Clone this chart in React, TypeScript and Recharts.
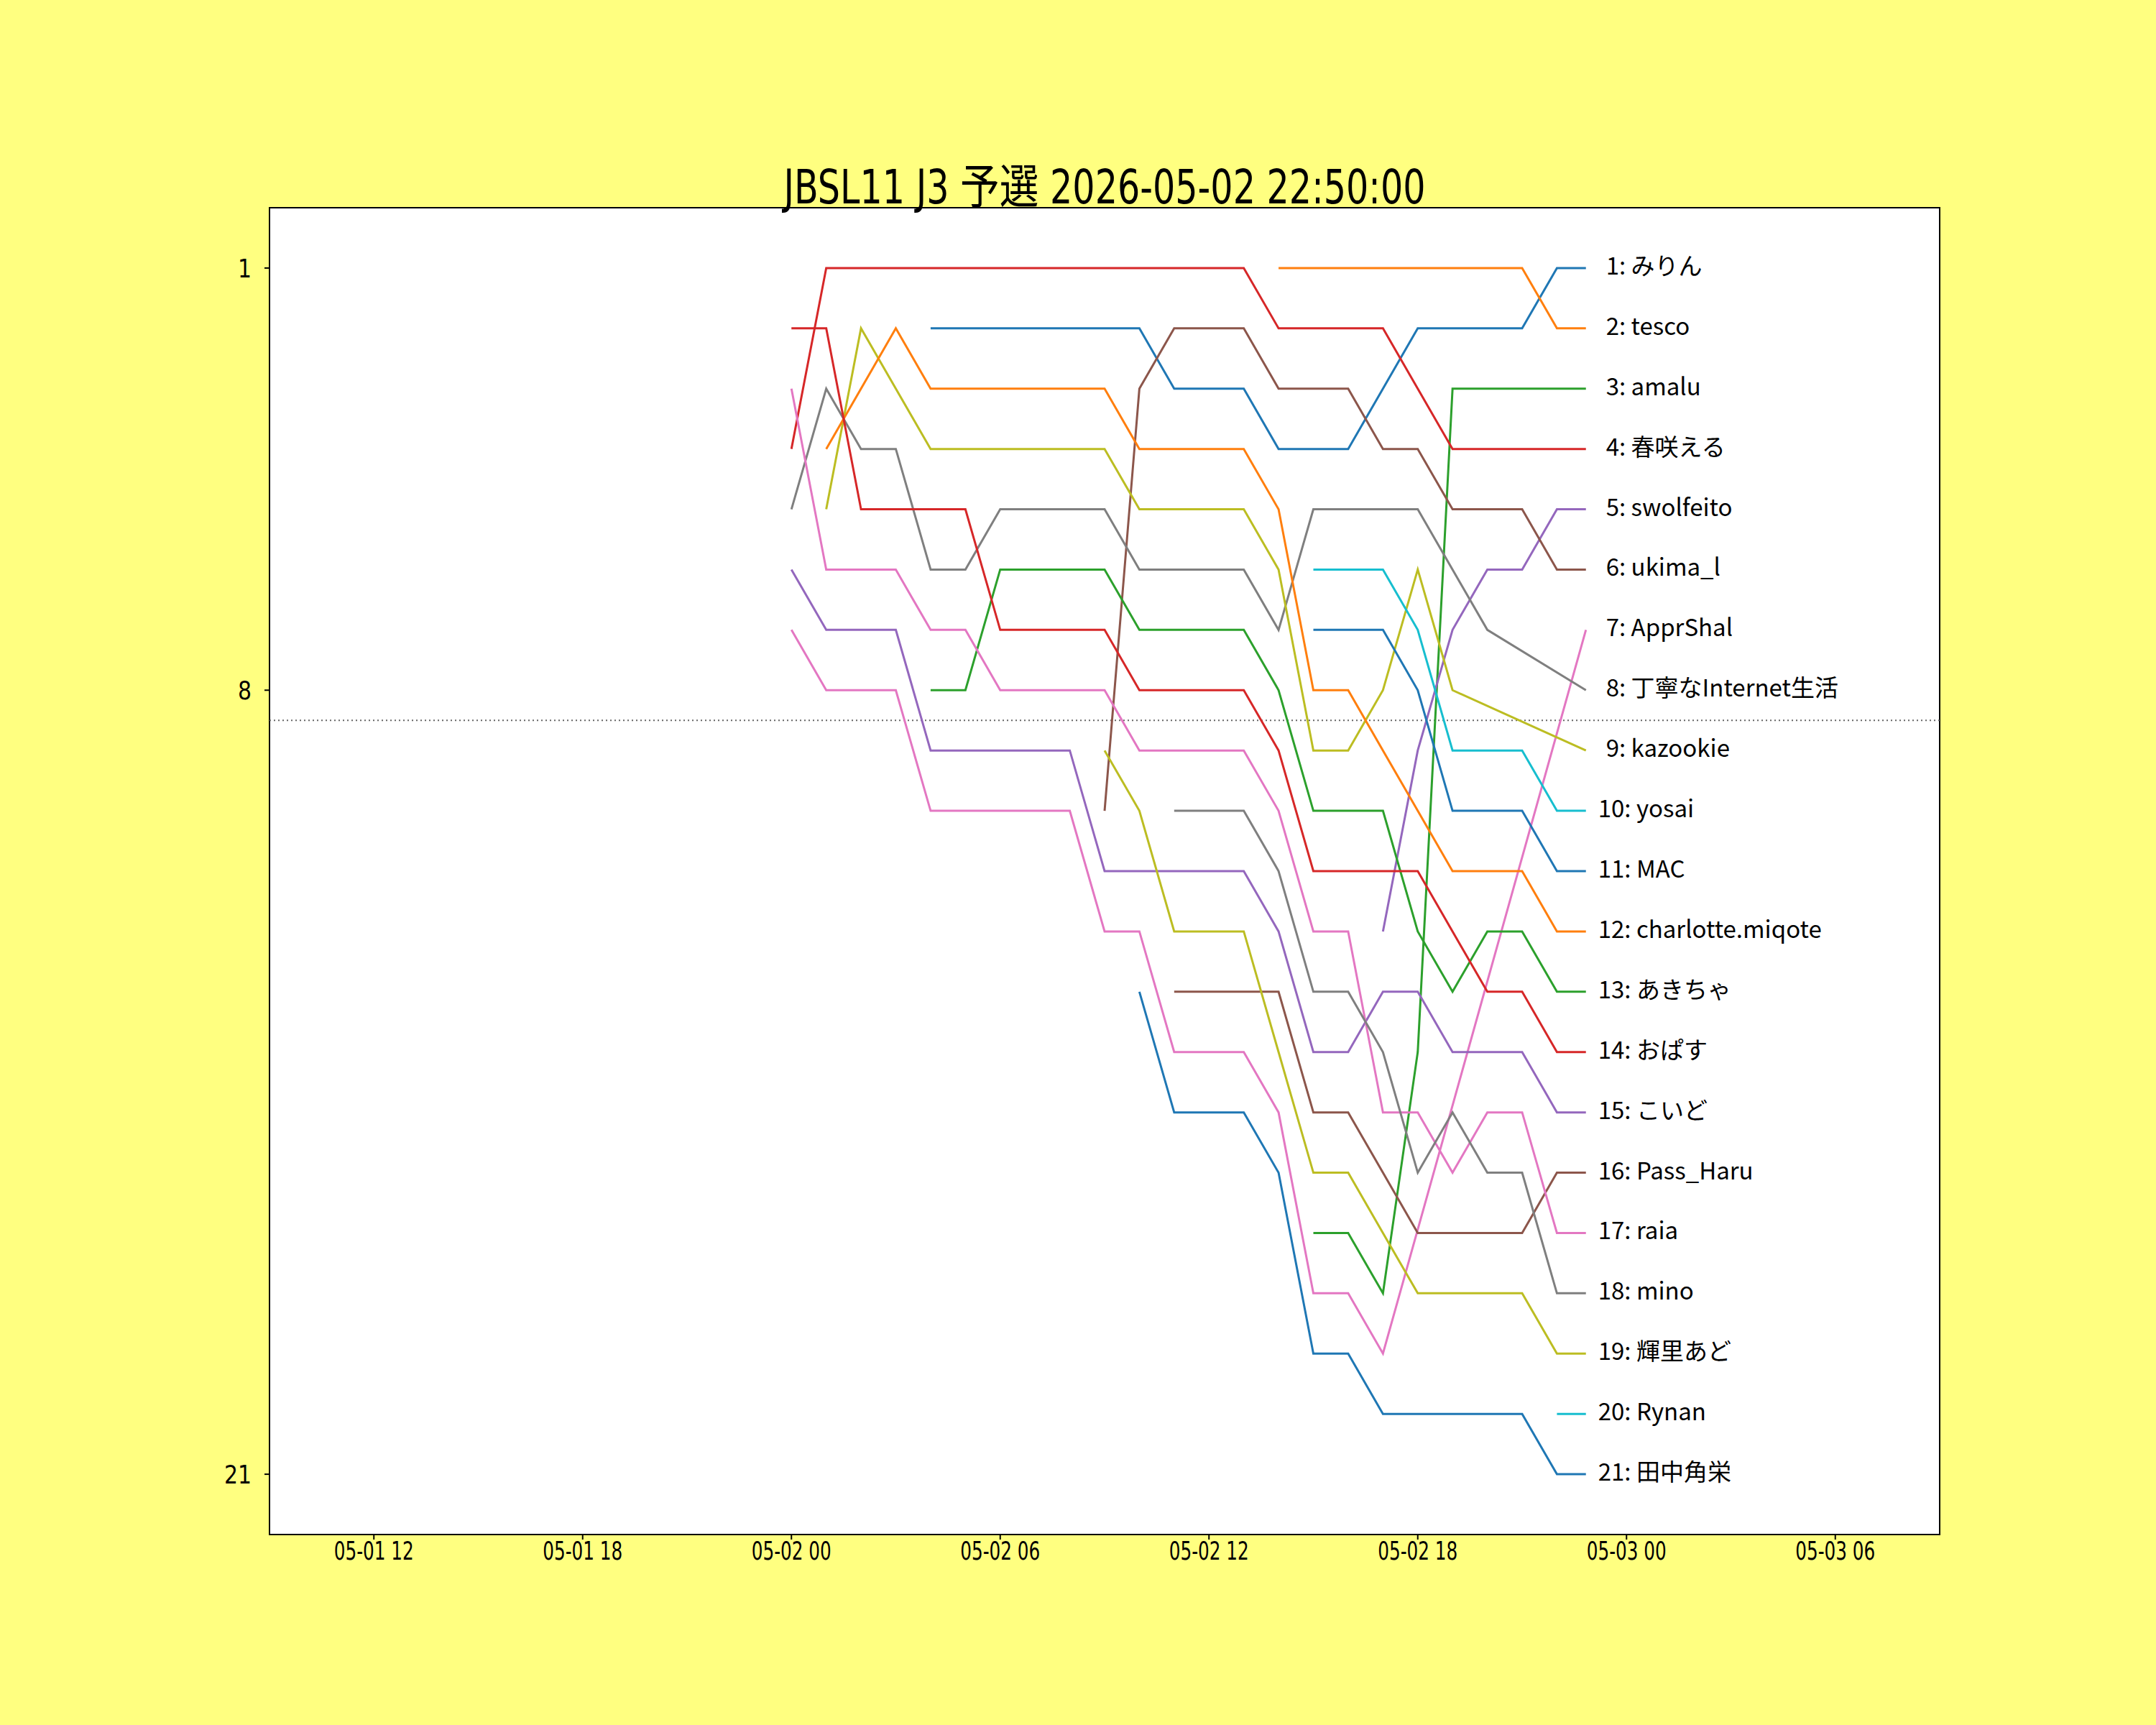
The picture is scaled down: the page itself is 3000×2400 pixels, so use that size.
import { LineChart, Line, XAxis, YAxis, ReferenceArea, ReferenceLine, LabelList } from 'recharts'

// hours after 05-02 00:00; the last point is the snapshot time 22:50
const hours = [0, 1, 2, 3, 4, 5, 6, 7, 8, 9, 10, 11, 12, 13, 14, 15, 16, 17, 18, 19, 20, 21, 22, 22.833]

const names = [
  'みりん', 'tesco', 'amalu', '春咲える', 'swolfeito', 'ukima_l', 'ApprShal',
  '丁寧なInternet生活', 'kazookie', 'yosai', 'MAC', 'charlotte.miqote', 'あきちゃ', 'おぱす',
  'こいど', 'Pass_Haru', 'raia', 'mino', '輝里あど', 'Rynan', '田中角栄',
]

const n = null
const miririn = [n, n, n, n, 2, 2, 2, 2, 2, 2, 2, 3, 3, 3, 4, 4, 4, 3, 2, 2, 2, 2, 1, 1]
const tesco = [n, n, n, n, n, n, n, n, n, n, n, n, n, n, 1, 1, 1, 1, 1, 1, 1, 1, 2, 2]
const amalu = [n, n, n, n, n, n, n, n, n, n, n, n, n, n, n, 17, 17, 18, 14, 3, 3, 3, 3, 3]
const harusaki = [4, 1, 1, 1, 1, 1, 1, 1, 1, 1, 1, 1, 1, 1, 2, 2, 2, 2, 3, 4, 4, 4, 4, 4]
const swolfeito = [n, n, n, n, n, n, n, n, n, n, n, n, n, n, n, n, n, 12, 9, 7, 6, 6, 5, 5]
const ukima = [n, n, n, n, n, n, n, n, n, 10, 3, 2, 2, 2, 3, 3, 3, 4, 4, 5, 5, 5, 6, 6]
const apprShal = [7, 8, 8, 8, 10, 10, 10, 10, 10, 12, 12, 14, 14, 14, 15, 18, 18, 19, n, n, n, n, n, 7]
const teinei = [5, 3, 4, 4, 6, 6, 5, 5, 5, 5, 6, 6, 6, 6, 7, 5, 5, 5, 5, 6, 7, n, n, 8]
const kazookie = [n, 5, 2, 3, 4, 4, 4, 4, 4, 4, 5, 5, 5, 5, 6, 9, 9, 8, 6, 8, n, n, n, 9]
const yosai = [n, n, n, n, n, n, n, n, n, n, n, n, n, n, n, 6, 6, 6, 7, 9, 9, 9, 10, 10]
const mac = [n, n, n, n, n, n, n, n, n, n, n, n, n, n, n, 7, 7, 7, 8, 10, 10, 10, 11, 11]
const charlotte = [n, 4, 3, 2, 3, 3, 3, 3, 3, 3, 4, 4, 4, 4, 5, 8, 8, 9, 10, 11, 11, 11, 12, 12]
const akicha = [n, n, n, n, 8, 8, 6, 6, 6, 6, 7, 7, 7, 7, 8, 10, 10, 10, 12, 13, 12, 12, 13, 13]
const opasu = [2, 2, 5, 5, 5, 5, 7, 7, 7, 7, 8, 8, 8, 8, 9, 11, 11, 11, 11, 12, 13, 13, 14, 14]
const koido = [6, 7, 7, 7, 9, 9, 9, 9, 9, 11, 11, 11, 11, 11, 12, 14, 14, 13, 13, 14, 14, 14, 15, 15]
const passHaru = [n, n, n, n, n, n, n, n, n, n, n, 13, 13, 13, 13, 15, 15, 16, 17, 17, 17, 17, 16, 16]
const raia = [3, 6, 6, 6, 7, 7, 8, 8, 8, 8, 9, 9, 9, 9, 10, 12, 12, 15, 15, 16, 15, 15, 17, 17]
const mino = [n, n, n, n, n, n, n, n, n, n, n, 10, 10, 10, 11, 13, 13, 14, 16, 15, 16, 16, 18, 18]
const kirari = [n, n, n, n, n, n, n, n, n, 9, 10, 12, 12, 12, 14, 16, 16, 17, 18, 18, 18, 18, 19, 19]
const rynan = [n, n, n, n, n, n, n, n, n, n, n, n, n, n, n, n, n, n, n, n, n, n, 20, 20]
const tanaka = [n, n, n, n, n, n, n, n, n, n, 13, 15, 15, 15, 16, 19, 19, 20, 20, 20, 20, 20, 21, 21]

const ranks = [
  miririn, tesco, amalu, harusaki, swolfeito, ukima, apprShal, teinei, kazookie, yosai, mac,
  charlotte, akicha, opasu, koido, passHaru, raia, mino, kirari, rynan, tanaka,
]

const xTicks = [-12, -6, 0, 6, 12, 18, 24, 30]
const xTickLabels = ['05-01 12', '05-01 18', '05-02 00', '05-02 06', '05-02 12', '05-02 18', '05-03 00', '05-03 06']
const yTicks = [1, 8, 21]
const cutoff = 8.5

const palette = ['#1f77b4', '#ff7f0e', '#2ca02c', '#d62728', '#9467bd', '#8c564b', '#e377c2', '#7f7f7f', '#bcbd22', '#17becf']

const data = hours.map((t, i) => {
  const row: any = { t }
  ranks.forEach((r, j) => { row[`p${j}`] = r[i] })
  return row
})

const narrow = '"Liberation Sans Narrow", "DejaVu Sans Condensed", "Noto Sans CJK JP"'

// the original uses a condensed face, so squeeze the tick text to its width
const XTick = ({ x, y, payload }: any) => (
  <text x={x} y={y} dy="0.71em" textAnchor="middle" fontFamily={narrow} fontSize={36} fill="#000"
    textLength={111} lengthAdjust="spacingAndGlyphs">
    {xTickLabels[xTicks.indexOf(payload.value)]}
  </text>
)

const YTick = ({ x, y, payload }: any) => (
  <text x={x} y={y} dy="0.355em" textAnchor="end" fontFamily={narrow} fontSize={36} fill="#000"
    textLength={String(payload.value).length * 19} lengthAdjust="spacingAndGlyphs">
    {payload.value}
  </text>
)

const endLabel = (j: number) => (props: any) => {
  const { x, y, index, value } = props
  if (index !== hours.length - 1 || value == null) return null
  return (
    <text
      x={x + (value < 10 ? 28 : 17)}
      y={y - 5}
      dominantBaseline="central"
      fontFamily='"Noto Sans CJK JP"'
      fontSize={33}
      fill="#000"
    >
      {`${value}: ${names[j]}`}
    </text>
  )
}

export default function App() {
  return (
    <div style={{ position: 'absolute', left: 0, top: 0, width: 3000, height: 2400, background: '#ffff80' }}>
      <LineChart width={3000} height={2400} data={data} margin={{ top: 289, right: 301, left: 295, bottom: 185 }}>
        <ReferenceArea x1={-15} x2={33} y1={0} y2={22} fill="#ffffff" fillOpacity={1} stroke="#000" strokeWidth={2} />
        <XAxis
          type="number"
          dataKey="t"
          domain={[-15, 33]}
          ticks={xTicks}
          interval={0}
          allowDataOverflow
          height={80}
          axisLine={false}
          tickLine={{ stroke: '#000', strokeWidth: 2 }}
          tickSize={7}
          tickMargin={2}
          tick={<XTick />}
        />
        <YAxis
          type="number"
          domain={[0, 22]}
          reversed
          ticks={yTicks}
          interval={0}
          allowDataOverflow
          width={80}
          axisLine={false}
          tickLine={{ stroke: '#000', strokeWidth: 2 }}
          tickSize={7}
          tickMargin={18}
          tick={<YTick />}
        />
        <ReferenceLine y={cutoff} stroke="#666" strokeWidth={2} strokeDasharray="2 4" />
        {ranks.map((_, j) => (
          <Line
            key={j}
            type="linear"
            dataKey={`p${j}`}
            stroke={palette[j % 10]}
            strokeWidth={3}
            dot={false}
            activeDot={false}
            connectNulls
            isAnimationActive={false}
          >
            <LabelList dataKey={`p${j}`} content={endLabel(j)} />
          </Line>
        ))}
      </LineChart>
      <svg width={3000} height={400} style={{ position: 'absolute', left: 0, top: 0, pointerEvents: 'none' }}>
        <text x={1537} y={283} textAnchor="middle" fontFamily={narrow} fontSize={66} fill="#000"
          textLength={893} lengthAdjust="spacingAndGlyphs">
          JBSL11 J3 予選 2026-05-02 22:50:00
        </text>
      </svg>
    </div>
  )
}
